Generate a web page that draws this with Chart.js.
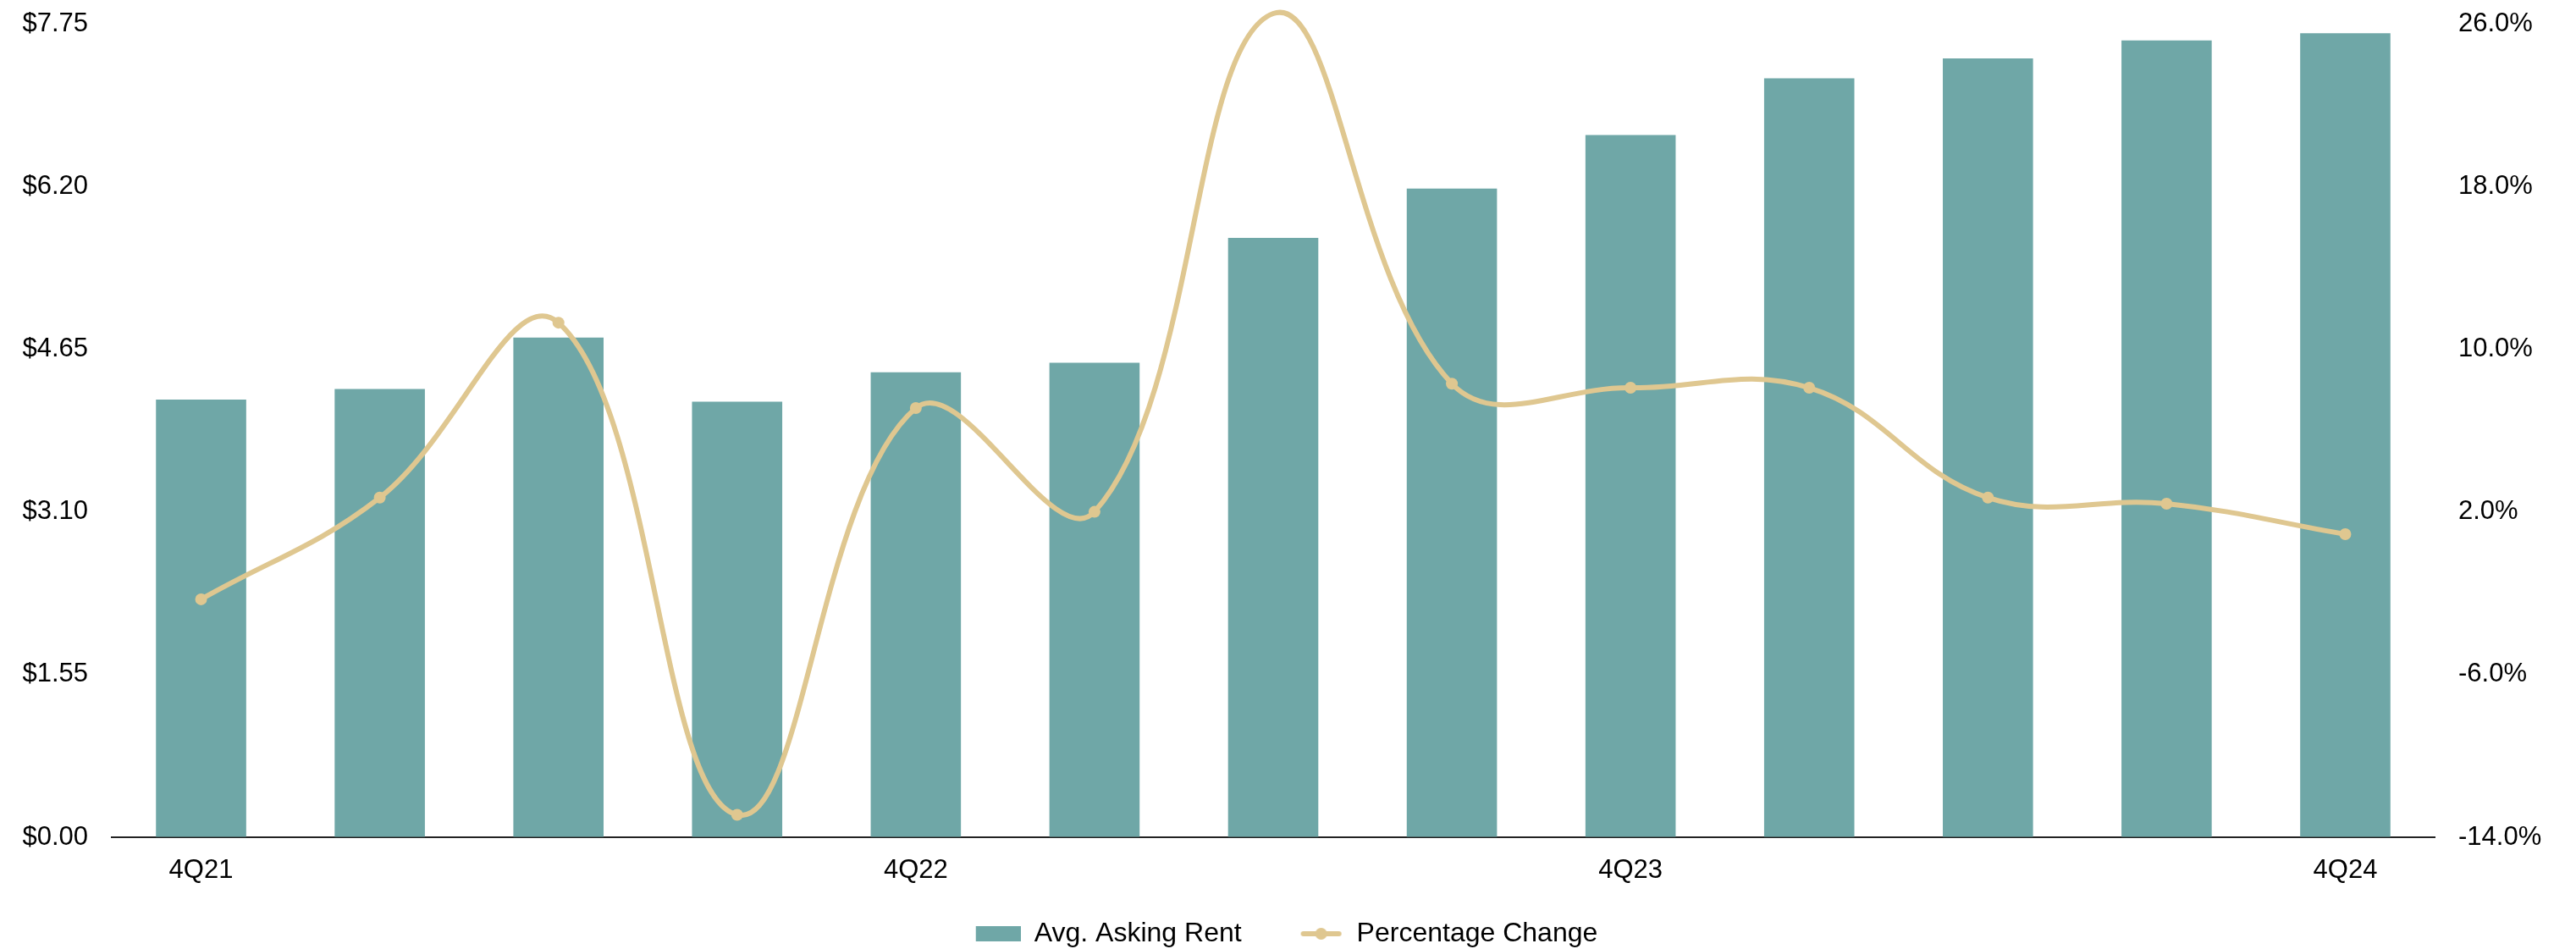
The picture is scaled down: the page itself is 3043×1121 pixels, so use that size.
<!DOCTYPE html>
<html>
<head>
<meta charset="utf-8">
<script src="https://cdn.jsdelivr.net/npm/chart.js@4/dist/chart.umd.min.js"></script>
<style>
  html, body { margin: 0; padding: 0; background: #fff; }
  #wrap { width: 3043px; height: 1121px; position: relative; }
</style>
</head>
<body>
<div id="wrap"><canvas id="rent-chart"></canvas></div>
<script>
// data
var quarters = ["4Q21", "1Q22", "2Q22", "3Q22", "4Q22", "1Q23", "2Q23", "3Q23", "4Q23", "1Q24", "2Q24", "3Q24", "4Q24"];
var askingRent = [4.17, 4.27, 4.76, 4.15, 4.43, 4.52, 5.71, 6.18, 6.69, 7.23, 7.42, 7.59, 7.66];
var pctChange = [-2.3, 2.7, 11.3, -12.9, 7.1, 2.0, 26.5, 8.3, 8.1, 8.1, 2.7, 2.4, 0.9];
var rentTicks = [0, 1.55, 3.10, 4.65, 6.20, 7.75];
var pctTicks = [-14, -6, 2, 10, 18, 26];

var barColor = "#6fa7a7";
var lineColor = "#dfc790";

Chart.defaults.font.family = "'Liberation Sans', Arial, sans-serif";
Chart.defaults.font.size = 31;
Chart.defaults.color = "#000";

// legend swatches (blank space on the left gives the gap between items)
function swatch(kind) {
  var c = document.createElement("canvas");
  c.width = 110; c.height = 22;
  var g = c.getContext("2d");
  if (kind == "bar") {
    g.fillStyle = barColor;
    g.fillRect(57, 2, 53, 18);
  } else {
    g.strokeStyle = lineColor;
    g.lineWidth = 6;
    g.lineCap = "round";
    g.beginPath(); g.moveTo(63, 11); g.lineTo(105, 11); g.stroke();
    g.fillStyle = lineColor;
    g.beginPath(); g.arc(84, 11, 7, 0, Math.PI * 2); g.fill();
  }
  return c;
}
var swatches = [swatch("bar"), swatch("line")];

// pull the legend back to the left so the visible part stays centred
var legendShift = {
  id: 'legendShift',
  afterLayout: function(chart) {
    if (chart.legend) { chart.legend.left -= 30; chart.legend.right -= 30; }
  }
};

// invisible tick marks keep the label gap without padding the top of the plot
var sideGrid = { display: true, drawOnChartArea: false, drawTicks: true, tickLength: 28, color: 'rgba(0,0,0,0)' };

new Chart(document.getElementById("rent-chart"), {
  type: 'bar',
  plugins: [legendShift],
  data: {
    labels: quarters,
    datasets: [
      {
        label: "Avg. Asking Rent",
        data: askingRent,
        backgroundColor: barColor,
        categoryPercentage: 1,
        barPercentage: 0.505,
        yAxisID: 'y',
        order: 1
      },
      {
        type: 'line',
        label: "Percentage Change",
        data: pctChange,
        borderColor: lineColor,
        backgroundColor: lineColor,
        borderWidth: 6,
        tension: 0.4,
        pointRadius: 7,
        pointBorderWidth: 0,
        pointBackgroundColor: lineColor,
        clip: false,
        yAxisID: 'y1',
        order: 0
      }
    ]
  },
  options: {
    responsive: true,
    maintainAspectRatio: false,
    animation: false,
    layout: { padding: { top: 28, left: 0, right: 0, bottom: -8 } },
    plugins: {
      tooltip: { enabled: false },
      legend: {
        position: 'bottom',
        labels: {
          usePointStyle: true,
          pointStyleWidth: 110,
          boxHeight: 22,
          padding: 10,
          font: { size: 32 },
          sort: function(a, b) { return a.datasetIndex - b.datasetIndex; },
          generateLabels: function(chart) {
            var items = Chart.defaults.plugins.legend.labels.generateLabels(chart);
            items.forEach(function(it) { it.pointStyle = swatches[it.datasetIndex]; });
            return items;
          }
        }
      }
    },
    scales: {
      x: {
        grid: { display: false },
        border: { display: true, color: "#222", width: 2 },
        ticks: {
          autoSkip: false,
          maxRotation: 0,
          padding: 13,
          callback: function(v, i) { return i % 4 == 0 ? quarters[i] : ""; }
        },
        afterFit: function(s) { s.height = 88; }
      },
      y: {
        position: 'left',
        min: 0,
        max: 7.75,
        grid: sideGrid,
        border: { display: false },
        ticks: {
          padding: 0,
          callback: function(v) { return "$" + Number(v).toFixed(2); }
        },
        afterBuildTicks: function(s) { s.ticks = rentTicks.map(function(v) { return { value: v }; }); },
        afterFit: function(s) { s.width = 132; }
      },
      y1: {
        position: 'right',
        min: -14,
        max: 26,
        grid: sideGrid,
        border: { display: false },
        ticks: {
          padding: 0,
          callback: function(v) { return Number(v).toFixed(1) + "%"; }
        },
        afterBuildTicks: function(s) { s.ticks = pctTicks.map(function(v) { return { value: v }; }); },
        afterFit: function(s) { s.width = 167; }
      }
    }
  }
});
</script>
</body>
</html>
